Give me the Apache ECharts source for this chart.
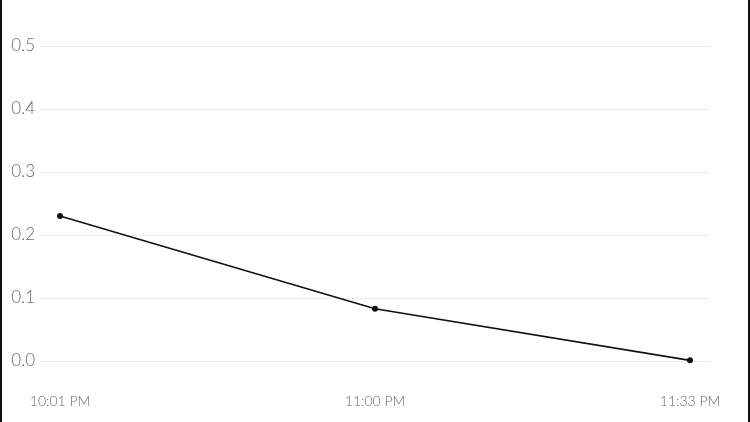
<!DOCTYPE html>
<html><head><meta charset="utf-8">
<script src="https://cdn.jsdelivr.net/npm/echarts@6/dist/echarts.min.js"></script>
<style>
html,body{margin:0;padding:0;background:#fff;}
#c{width:746px;height:422px;border-left:2px solid #111;border-right:2px solid #111;}
</style></head>
<body><div id="c"></div>
<script>
const categories = ['10:01 PM', '11:00 PM', '11:33 PM'];
const values = [0.23, 0.083, 0.001];
const yTicks = [0, 0.1, 0.2, 0.3, 0.4, 0.5];

const chart = echarts.init(document.getElementById('c'));
const font = 'Lato, "Open Sans", sans-serif';
chart.setOption({
  animation: false,
  grid: [
    {left: 38, right: 38, top: 46, bottom: 61},
    {left: 58, right: 58, top: 46, bottom: 61}
  ],
  xAxis: [
    {gridIndex: 0, type: 'category', data: categories, show: false, boundaryGap: false},
    {gridIndex: 1, type: 'category', data: categories, boundaryGap: false,
     axisLine: {show: false}, axisTick: {show: false},
     axisLabel: {margin: 33, color: '#6a6a6a', fontSize: 14, fontFamily: font, fontWeight: 300}}
  ],
  yAxis: [
    {gridIndex: 0, type: 'value', min: yTicks[0], max: yTicks[yTicks.length - 1], interval: 0.1,
     axisLine: {show: false}, axisTick: {show: false},
     splitLine: {lineStyle: {color: '#ececec', width: 1}},
     axisLabel: {margin: 5, color: '#6a6a6a', fontSize: 17, fontFamily: font, fontWeight: 300,
       formatter: v => v.toFixed(1)}},
    {gridIndex: 1, type: 'value', min: yTicks[0], max: yTicks[yTicks.length - 1], show: false}
  ],
  series: [{
    type: 'line', xAxisIndex: 1, yAxisIndex: 1, data: values,
    symbol: 'circle', symbolSize: 6,
    lineStyle: {color: '#111', width: 1.6},
    itemStyle: {color: '#111'}
  }]
});
</script></body></html>
